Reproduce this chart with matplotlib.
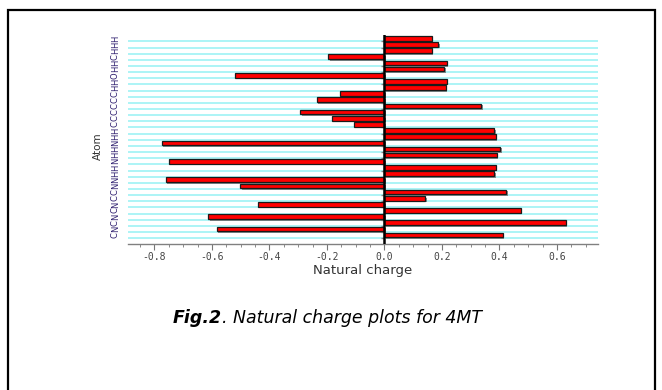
import numpy as np
import matplotlib.pyplot as plt
import matplotlib.patheffects as pe
from matplotlib.patches import Rectangle
from matplotlib.ticker import MultipleLocator

plt.rcParams['axes.unicode_minus'] = False

# atoms top to bottom and their natural charges
atoms = ['H', 'H', 'H', 'C', 'H', 'H', 'O', 'H', 'H', 'C', 'C', 'C', 'C', 'C', 'C',
         'H', 'H', 'N', 'H', 'H', 'N', 'H', 'H', 'N', 'N', 'C', 'C', 'N', 'C', 'N',
         'C', 'N', 'C']
charges = [0.164, 0.187, 0.164, -0.195, 0.216, 0.209, -0.520, 0.216, 0.213, -0.156,
           -0.236, 0.336, -0.294, -0.184, -0.105, 0.382, 0.387, -0.775, 0.402, 0.391,
           -0.750, 0.387, 0.382, -0.761, -0.501, 0.423, 0.142, -0.439, 0.474, -0.612,
           0.631, -0.583, 0.411]
xticks = [-0.8, -0.6, -0.4, -0.2, 0.0, 0.2, 0.4, 0.6]

fig = plt.figure(figsize=(6.62, 3.9), dpi=100)
ax = fig.add_axes([128/662, 1-244/390, 470/662, 209/390])

pos = np.arange(len(atoms))

# light cyan row lines between bars
ax.hlines(pos + 0.5, -0.892, 0.743, color='#a6f3f6', lw=1.3, zorder=1)
# small marks left of the zero line
ax.hlines(pos + 0.5, -0.012, 0, color='#888888', lw=1, zorder=2)

shadow = [pe.SimplePatchShadow(offset=(1.2, -1.2), shadow_rgbFace='#707070', alpha=0.8),
          pe.Normal()]
ax.barh(pos, charges, height=0.76, color='#ff0000', edgecolor='#1a1a1a', lw=0.9,
        path_effects=shadow, zorder=3)

ax.axvline(0, color='black', lw=1.8, zorder=4)

ax.set_xlim(-0.892, 0.743)
ax.set_ylim(33.45, -0.54)

ax.set_xticks(xticks)
ax.set_xticklabels(['%.1f' % v for v in xticks], family='DejaVu Sans Mono',
                   fontsize=7, color='#444444')
ax.xaxis.set_minor_locator(MultipleLocator(0.05))
ax.tick_params(axis='x', which='major', length=4, color='#777777', pad=2)
ax.tick_params(axis='x', which='minor', length=2, color='#777777')

ax.set_yticks(pos)
ax.set_yticklabels(atoms, rotation=90, fontsize=6, color='#302070', va='center')
ax.tick_params(axis='y', length=0, pad=6)

for side in ['left', 'top', 'right']:
    ax.spines[side].set_visible(False)
ax.spines['bottom'].set_color('#808080')
ax.spines['bottom'].set_linewidth(1)

ax.set_xlabel('Natural charge', fontsize=9.5, color='#333333', labelpad=1)
fig.text(98/662, 1-146/390, 'Atom', rotation=90, fontsize=7.5, ha='center',
         va='center', color='#333333')

# caption
t1 = fig.text(173/662, 1-323/390, 'Fig.2', fontsize=12.5, fontweight='bold',
              style='italic', va='baseline')
ax.annotate('. Natural charge plots for 4MT', xy=(1, 0), xycoords=t1, va='bottom',
            ha='left', fontsize=12.5, style='italic', annotation_clip=False)

# outer frame
fig.add_artist(Rectangle((7.5/662, -0.1), 647/662, 1.1 - 10.5/390, transform=fig.transFigure,
                         fill=False, ec='black', lw=1.6, clip_on=False))

fig.savefig('out.png', dpi=100)
